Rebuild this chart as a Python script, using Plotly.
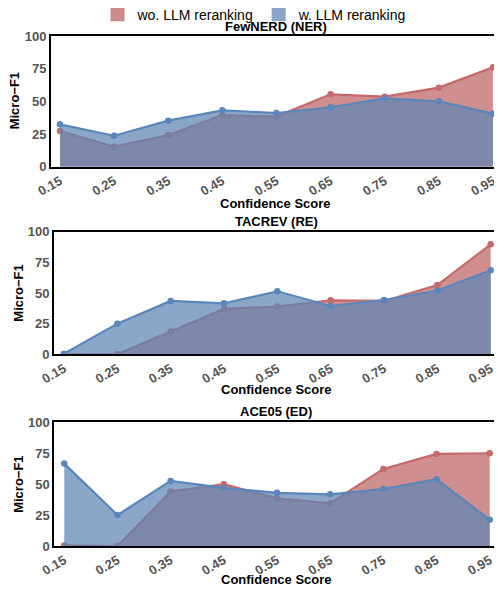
import plotly.graph_objects as go

conf = [0.15, 0.25, 0.35, 0.45, 0.55, 0.65, 0.75, 0.85, 0.95]
tick_labels = ["0.15", "0.25", "0.35", "0.45", "0.55", "0.65", "0.75", "0.85", "0.95"]
y_ticks = [0, 25, 50, 75, 100]

panel_titles = ["FewNERD (NER)", "TACREV (RE)", "ACE05 (ED)"]
series_names = ["wo. LLM reranking", "w. LLM reranking"]

fewnerd_wo = [27.3, 15.3, 24.2, 39.5, 38.3, 55.4, 53.6, 60.5, 76.0]
fewnerd_w = [32.4, 23.7, 35.2, 43.1, 41.1, 45.4, 52.3, 50.0, 40.6]

tacrev_wo = [0.0, 0.0, 18.5, 37.0, 39.0, 44.0, 43.5, 56.5, 89.7]
tacrev_w = [0.5, 25.0, 43.5, 41.6, 51.4, 39.4, 44.3, 52.0, 68.5]

ace05_wo = [0.5, 0.0, 44.0, 50.0, 38.5, 34.5, 62.3, 74.4, 75.0]
ace05_w = [66.6, 25.0, 52.6, 47.0, 43.0, 41.8, 46.0, 54.0, 21.3]

panels = [(fewnerd_wo, fewnerd_w), (tacrev_wo, tacrev_w), (ace05_wo, ace05_w)]

# page offset of the figure inside the browser window
OFF = 8
W, H = 494, 582
# plot boxes in window pixels: (left, right, top, bottom)
boxes = [(51, 500, 36, 166.7), (54, 499, 231.7, 354.3), (54.3, 498, 422.3, 546)]
xranges = [[0.1334, 0.963], [0.1313, 0.9656], [0.1313, 0.9656]]
title_y = [27, 221.7, 411.7]
xtitle_y = [203.3, 389, 579.3]
ytitle_x = [14, 17.7, 17.7]

RED_LINE = "#c46a6a"
RED_FILL = "rgba(186,95,95,0.70)"
BLUE_LINE = "#5b86bb"
BLUE_FILL = "rgba(94,133,181,0.73)"
FONT = "Liberation Sans, Arial, sans-serif"


def px(x):
    return (x - OFF) / W


def py(y):
    return 1 - (y - OFF) / H


fig = go.Figure()

for i, (wo, w) in enumerate(panels):
    xa = "x" if i == 0 else f"x{i+1}"
    ya = "y" if i == 0 else f"y{i+1}"
    fig.add_trace(go.Scatter(
        x=conf, y=wo, mode="lines+markers", fill="tozeroy",
        fillcolor=RED_FILL, line=dict(color=RED_LINE, width=2.2),
        marker=dict(color=RED_LINE, size=6.5), showlegend=False,
        xaxis=xa, yaxis=ya, name=series_names[0]))
    fig.add_trace(go.Scatter(
        x=conf, y=w, mode="lines+markers", fill="tozeroy",
        fillcolor=BLUE_FILL, line=dict(color=BLUE_LINE, width=2.2),
        marker=dict(color=BLUE_LINE, size=6.5), showlegend=False,
        xaxis=xa, yaxis=ya, name=series_names[1]))

# legend entries
fig.add_trace(go.Scatter(x=[None], y=[None], mode="markers", name=series_names[0],
                         marker=dict(symbol="square", size=14, color="#cd8a8a")))
fig.add_trace(go.Scatter(x=[None], y=[None], mode="markers", name=series_names[1],
                         marker=dict(symbol="square", size=14, color="#8aa6c9")))

layout = dict(
    width=W, height=H,
    margin=dict(l=0, r=0, t=0, b=0, autoexpand=False),
    paper_bgcolor="white", plot_bgcolor="white",
    font=dict(family=FONT, size=13, color="black"),
    legend=dict(orientation="h", x=px(254.5), xanchor="center", y=1.016, yanchor="top",
                font=dict(size=14, color="black"), itemwidth=30,
                bgcolor="rgba(0,0,0,0)"),
)

annotations = []
for i in range(3):
    l, r, t, b = boxes[i]
    sx = "" if i == 0 else str(i + 1)
    layout[f"xaxis{sx}"] = dict(
        domain=[px(l), px(r)], anchor=f"y{sx}", range=xranges[i],
        tickmode="array", tickvals=conf, ticktext=tick_labels, tickangle=-30,
        tickfont=dict(family=FONT, size=13, color="#555555", weight="bold"),
        showline=True, linecolor="black", linewidth=2, mirror=True,
        showgrid=False, zeroline=False, ticks="")
    layout[f"yaxis{sx}"] = dict(
        domain=[py(b), py(t)], anchor=f"x{sx}", range=[0, 100],
        tickmode="array", tickvals=y_ticks,
        tickfont=dict(family=FONT, size=13, color="#555555", weight="bold"),
        showline=True, linecolor="black", linewidth=2, mirror=True,
        showgrid=False, zeroline=False, ticks="")
    cx = px((l + r) / 2)
    annotations.append(dict(text=f"<b>{panel_titles[i]}</b>", x=cx, y=py(title_y[i]),
                            xref="paper", yref="paper", showarrow=False,
                            xanchor="center", yanchor="middle",
                            font=dict(family=FONT, size=13, color="black")))
    annotations.append(dict(text="<b>Confidence Score</b>", x=cx, y=py(xtitle_y[i]),
                            xref="paper", yref="paper", showarrow=False,
                            xanchor="center", yanchor="middle",
                            font=dict(family=FONT, size=13, color="black")))
    annotations.append(dict(text="<b>Micro\u2212F1</b>", x=px(ytitle_x[i]),
                            y=py((t + b) / 2), xref="paper", yref="paper",
                            showarrow=False, textangle=-90,
                            xanchor="center", yanchor="middle",
                            font=dict(family=FONT, size=13, color="black")))

layout["annotations"] = annotations
fig.update_layout(**layout)
fig.write_html("out.html")
